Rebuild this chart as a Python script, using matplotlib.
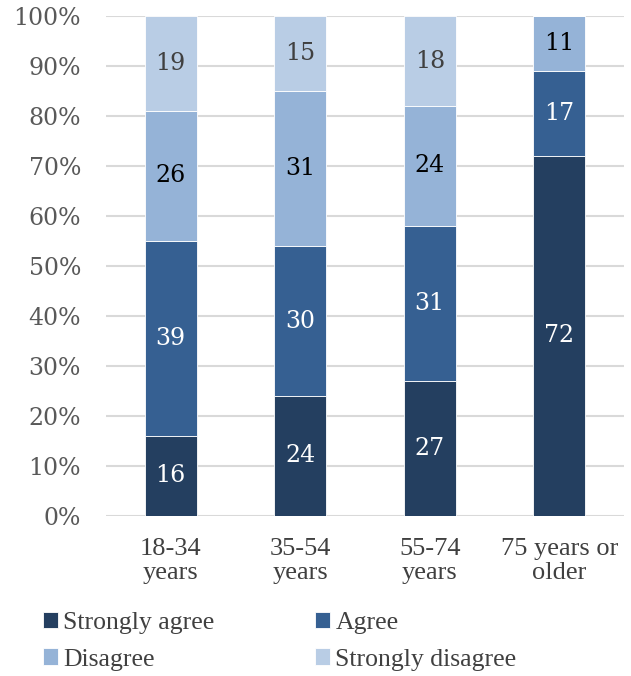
import numpy as np
import matplotlib.pyplot as plt

categories = ['18-34\nyears', '35-54\nyears', '55-74\nyears', '75 years or\nolder']
series_names = ['Strongly agree', 'Agree', 'Disagree', 'Strongly disagree']
strongly_agree = [16, 24, 27, 72]
agree = [39, 30, 31, 17]
disagree = [26, 31, 24, 11]
strongly_disagree = [19, 15, 18, 0]

colors = ['#243f60', '#366092', '#95b3d7', '#b9cde5']
label_colors = ['white', 'white', 'black', '#404040']
serif = 'Liberation Serif'
num_font = 'DejaVu Serif'

fig = plt.figure(figsize=(6.31, 6.76), dpi=100)
ax = fig.add_axes([106 / 631, 160 / 676, 518 / 631, 500 / 676])

x = np.arange(len(categories))
values = [strongly_agree, agree, disagree, strongly_disagree]
bottom = np.zeros(len(categories))
handles = []
for name, vals, col, lc in zip(series_names, values, colors, label_colors):
    vals = np.array(vals, dtype=float)
    bars = ax.bar(x, vals, 0.4, bottom=bottom, color=col, edgecolor='white',
                  linewidth=0.6, label=name, zorder=3)
    handles.append(bars)
    for xi, v, b in zip(x, vals, bottom):
        if v > 0:
            ax.text(xi, b + v / 2, f'{int(v)}', ha='center', va='center',
                    color=lc, fontsize=17, fontfamily=num_font, zorder=4)
    bottom += vals

ax.set_xlim(-0.5, 3.5)
ax.set_ylim(0, 100)
ax.set_yticks(np.arange(0, 101, 10))
ax.set_yticklabels([f'{v}%' for v in range(0, 101, 10)])
for t in ax.get_yticklabels():
    t.set_fontfamily(num_font)
    t.set_fontsize(17)
    t.set_color('#595959')
ax.set_xticks(x)
ax.set_xticklabels(categories)
for t in ax.get_xticklabels():
    t.set_fontfamily(serif)
    t.set_fontsize(19)
    t.set_color('#404040')
    t.set_linespacing(1.1)
ax.tick_params(axis='y', length=0, pad=18)
ax.tick_params(axis='x', length=0, pad=16)
ax.grid(axis='y', color='#d9d9d9', linewidth=1.5, zorder=0)
for s in ax.spines.values():
    s.set_visible(False)

# legend: two rows, filled column-wise so reorder entries
order = [0, 2, 1, 3]
leg = fig.legend([handles[i] for i in order], [series_names[i] for i in order],
                 ncol=2, loc='lower left', bbox_to_anchor=(0.068, 0.008),
                 frameon=False, prop={'family': serif, 'size': 18.5},
                 labelcolor='#404040', handlelength=0.6, handleheight=0.6,
                 handletextpad=0.2, columnspacing=3.9, labelspacing=0.55,
                 borderaxespad=0, borderpad=0)

fig.savefig('out.png', dpi=100)
